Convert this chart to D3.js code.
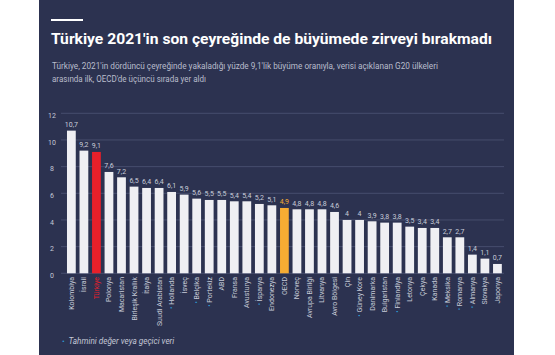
<!DOCTYPE html>
<html><head><meta charset="utf-8">
<script src="https://cdn.jsdelivr.net/npm/d3@7"></script>
<style>
html,body{margin:0;padding:0;background:#fff;}
svg{display:block;font-family:Roboto,"Noto Sans",sans-serif;}
</style></head>
<body>
<script>
const categories = ["Kolombiya","İsrail","Türkiye","Polonya","Macaristan","Birleşik Krallık","İtalya","Suudi Arabistan","Hollanda","İsveç","Belçika","Portekiz","ABD","Fransa","Avusturya","İspanya","Endonezya","OECD","Norveç","Avrupa Birliği","Litvanya","Avro Bölgesi","Çin","Güney Kore","Danimarka","Bulgaristan","Finlandiya","Letonya","Çekya","Kanada","Meksika","Romanya","Almanya","Slovakya","Japonya"];
const values = [10.7,9.2,9.1,7.6,7.2,6.5,6.4,6.4,6.1,5.9,5.6,5.5,5.5,5.4,5.4,5.2,5.1,4.9,4.8,4.8,4.8,4.6,4,4,3.9,3.8,3.8,3.5,3.4,3.4,2.7,2.7,1.4,1.1,0.7];
const estimated = ["Hollanda","Belçika","Portekiz","İspanya","Güney Kore","Finlandiya","Meksika","Romanya","Almanya"];
const yTicks = [0,2,4,6,8,10,12];
const title = "Türkiye 2021'in son çeyreğinde de büyümede zirveyi bırakmadı";
const subtitle = ["Türkiye, 2021'in dördüncü çeyreğinde yakaladığı yüzde 9,1'lik büyüme oranıyla, verisi açıklanan G20 ülkeleri","arasında ilk, OECD'de üçüncü sırada yer aldı"];
const footnote = "Tahmini değer veya geçici veri";

const W = 555, H = 355;
const svg = d3.select("body").append("svg").attr("width", W).attr("height", H);
svg.append("rect").attr("x", 39).attr("y", 0).attr("width", 475).attr("height", H).attr("fill", "#2c3250");

svg.append("rect").attr("x", 51).attr("y", 19).attr("width", 32).attr("height", 2).attr("fill", "#ffffff");
svg.append("text").attr("x", 51).attr("y", 43.5).attr("fill", "#ffffff")
  .attr("font-size", 14.5).attr("font-weight", "bold")
  .attr("textLength", 441).attr("lengthAdjust", "spacingAndGlyphs").text(title);
svg.append("text").attr("x", 52).attr("y", 69).attr("fill", "#b9bdcc").attr("font-size", 9.5)
  .attr("textLength", 386).attr("lengthAdjust", "spacingAndGlyphs").text(subtitle[0]);
svg.append("text").attr("x", 52).attr("y", 82).attr("fill", "#b9bdcc").attr("font-size", 9.5)
  .attr("textLength", 154).attr("lengthAdjust", "spacingAndGlyphs").text(subtitle[1]);

const x = d3.scaleBand().domain(categories).range([62.6, 506.2]).paddingInner(0.3).paddingOuter(0.35);
const y = d3.scaleLinear().domain([0, 12]).range([273.3, 113.3]);

const grid = svg.append("g");
grid.selectAll("line").data(yTicks).join("line")
  .attr("x1", 61).attr("x2", 504)
  .attr("y1", d => y(d)).attr("y2", d => y(d))
  .attr("stroke", "#464d6d").attr("stroke-width", 1);

const yAxis = d3.axisLeft(y).tickValues(yTicks).tickSize(0).tickFormat(d => d);
const ya = svg.append("g").attr("transform", "translate(58,2)").call(yAxis);
ya.select(".domain").remove();
ya.selectAll("text").attr("fill", "#c4c8d6").attr("font-size", 7).attr("font-family", "Roboto,sans-serif").attr("text-anchor", "middle").attr("dx", -3);

const fmt = v => String(v).replace(".", ",");
const colorOf = c => c === "Türkiye" ? "#e8202a" : (c === "OECD" ? "#f6ac33" : "#efeff3");

svg.append("g").selectAll("rect").data(categories).join("rect")
  .attr("x", c => x(c)).attr("width", x.bandwidth())
  .attr("y", (c, i) => y(values[i])).attr("height", (c, i) => y(0) - y(values[i]))
  .attr("fill", colorOf);

svg.append("g").selectAll("text").data(categories).join("text")
  .attr("x", c => x(c) + x.bandwidth() / 2)
  .attr("y", (c, i) => y(values[i]) - 3.5)
  .attr("text-anchor", "middle").attr("font-size", 7)
  .attr("fill", c => c === "OECD" ? "#f6ac33" : "#c8ccd9")
  .text((c, i) => fmt(values[i]));

const xa = svg.append("g").attr("transform", "translate(0,277)").call(d3.axisBottom(x).tickSize(0).tickFormat(""));
xa.select(".domain").remove();
const lbl = svg.append("g").selectAll("text").data(categories).join("text")
  .attr("transform", c => `translate(${x(c) + x.bandwidth() / 2 + 2.5},277) rotate(-90)`)
  .attr("text-anchor", "end").attr("font-size", 7)
  .attr("fill", c => c === "Türkiye" ? "#e8202a" : "#c8ccd9");
lbl.filter(c => estimated.includes(c)).append("tspan").attr("fill", "#2e9bd6").text("• ");
lbl.append("tspan").text(c => c);

svg.append("text").attr("x", 62).attr("y", 343.5).attr("font-size", 8).attr("fill", "#2e9bd6").text("•");
svg.append("text").attr("x", 68.5).attr("y", 343.5).attr("font-size", 8.2).attr("font-style", "italic")
  .attr("fill", "#c4c8d6").text(footnote);
</script>
</body></html>
